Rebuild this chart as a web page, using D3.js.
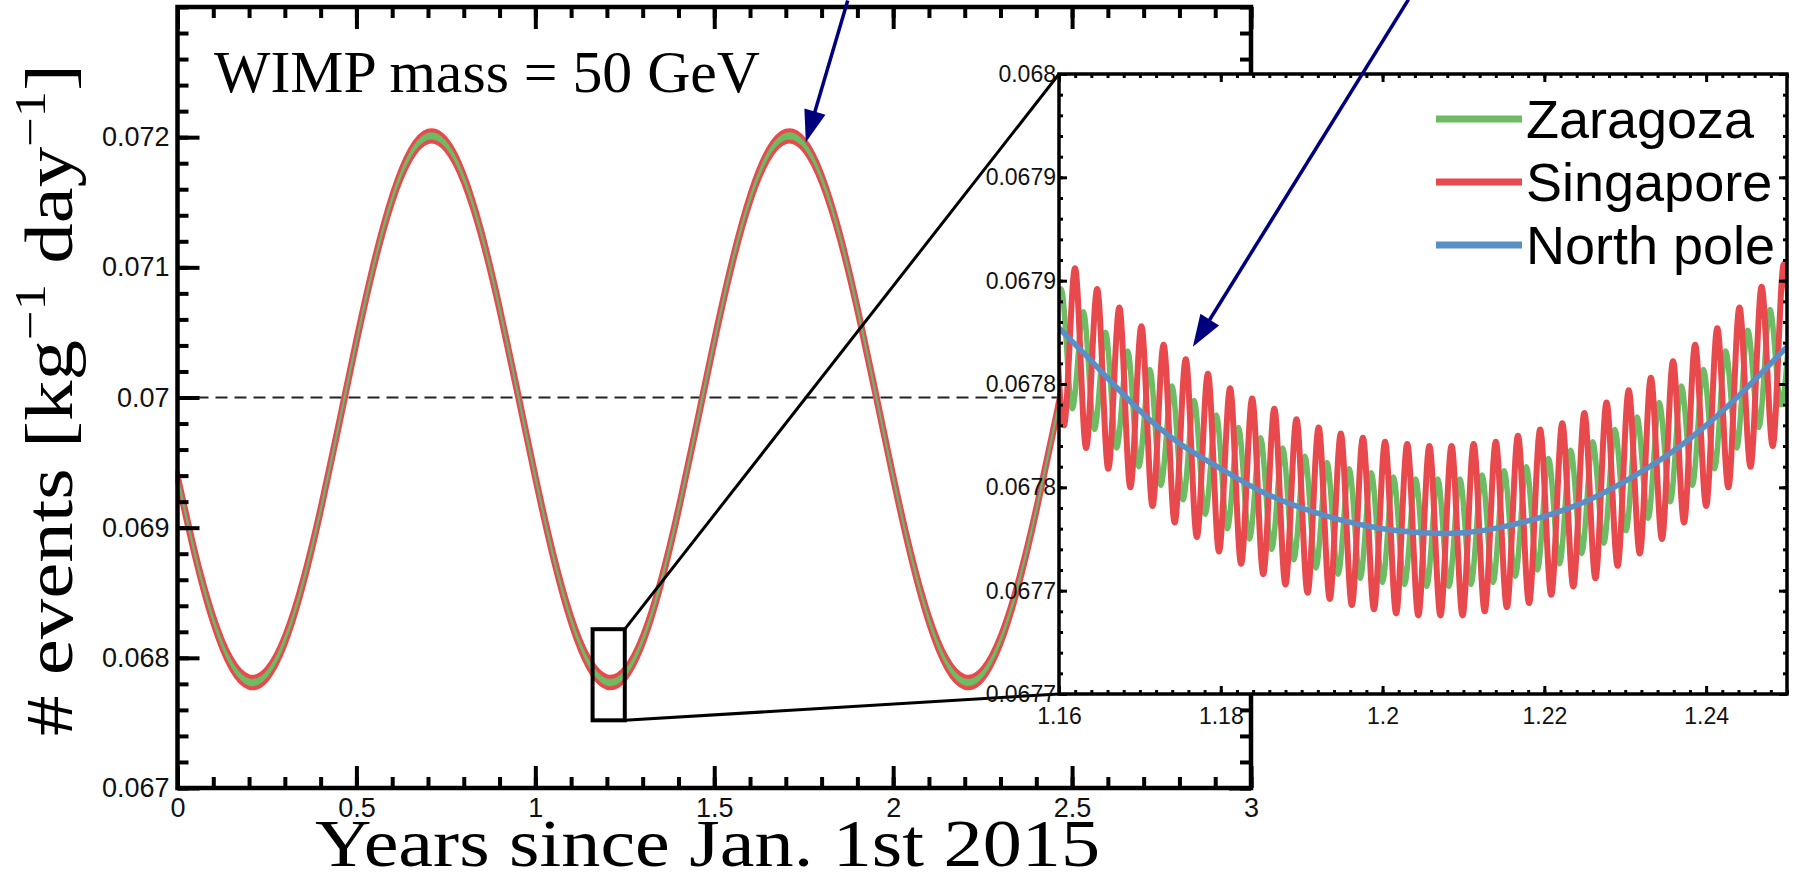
<!DOCTYPE html>
<html>
<head>
<meta charset="utf-8">
<script src="https://cdn.jsdelivr.net/npm/d3@7"></script>
<style>
  body { margin: 0; background: #fff; }
  svg { display: block; }
</style>
</head>
<body>
<svg id="chart" width="1795" height="880"></svg>
<script>
// ---- main panel data (years since Jan 1st 2015, read every 0.05 yr) ----
const years = [0, 0.05, 0.1, 0.15, 0.2, 0.25, 0.3, 0.35, 0.4, 0.45, 0.5, 0.55, 0.6, 0.65, 0.7, 0.75, 0.8, 0.85, 0.9, 0.95,
  1, 1.05, 1.1, 1.15, 1.2, 1.25, 1.3, 1.35, 1.4, 1.45, 1.5, 1.55, 1.6, 1.65, 1.7, 1.75, 1.8, 1.85, 1.9, 1.95,
  2, 2.05, 2.1, 2.15, 2.2, 2.25, 2.3, 2.35, 2.4, 2.45, 2.5, 2.55, 2.6, 2.65, 2.7, 2.75, 2.8, 2.85, 2.9, 2.95, 3];
const northPoleMain = [0.069388, 0.068785, 0.068292, 0.067957, 0.067814, 0.067876, 0.068137, 0.068571, 0.069137, 0.069778,
  0.070432, 0.071035, 0.071528, 0.071863, 0.072006, 0.071944, 0.071683, 0.071249, 0.070683, 0.070042,
  0.069388, 0.068785, 0.068292, 0.067957, 0.067814, 0.067876, 0.068137, 0.068571, 0.069137, 0.069778,
  0.070432, 0.071035, 0.071528, 0.071863, 0.072006, 0.071944, 0.071683, 0.071249, 0.070683, 0.070042,
  0.069388, 0.068785, 0.068292, 0.067957, 0.067814, 0.067876, 0.068137, 0.068571, 0.069137, 0.069778,
  0.070432, 0.071035, 0.071528, 0.071863, 0.072006, 0.071944, 0.071683, 0.071249, 0.070683, 0.070042,
  0.069388];
// half height of the daily wiggle around the north pole curve
const singaporeSpread = 0.000042;
const zaragozaSpread = 0.000026;

const mainXTicks = [0, 0.5, 1, 1.5, 2, 2.5, 3];
const mainXLabels = ["0", "0.5", "1", "1.5", "2", "2.5", "3"];
const mainYTicks = [0.067, 0.068, 0.069, 0.07, 0.071, 0.072];
const mainYLabels = ["0.067", "0.068", "0.069", "0.07", "0.071", "0.072"];

// ---- inset data (daily maxima / minima) ----
const singaporeT = [1.15924, 1.16061, 1.16198, 1.16335, 1.16472, 1.16609, 1.16746, 1.16882, 1.17019, 1.17156,
  1.17293, 1.1743, 1.17567, 1.17704, 1.17841, 1.17978, 1.18115, 1.18251, 1.18388, 1.18525,
  1.18662, 1.18799, 1.18936, 1.19073, 1.1921, 1.19347, 1.19484, 1.1962, 1.19757, 1.19894,
  1.20031, 1.20168, 1.20305, 1.20442, 1.20579, 1.20716, 1.20853, 1.20989, 1.21126, 1.21263,
  1.214, 1.21537, 1.21674, 1.21811, 1.21948, 1.22085, 1.22222, 1.22358, 1.22495, 1.22632,
  1.22769, 1.22906, 1.23043, 1.2318, 1.23317, 1.23454, 1.23591, 1.23727, 1.23864, 1.24001,
  1.24138, 1.24275, 1.24412, 1.24549, 1.24686, 1.24823, 1.2496, 1.25097];
const singaporeV = [0.067917, 0.06783, 0.067906, 0.067819, 0.067896, 0.067809, 0.067887, 0.0678, 0.067878, 0.067791,
  0.067869, 0.067783, 0.067862, 0.067776, 0.067855, 0.067769, 0.067848, 0.067763, 0.067843, 0.067758,
  0.067838, 0.067753, 0.067833, 0.067749, 0.067829, 0.067746, 0.067826, 0.067743, 0.067824, 0.067741,
  0.067822, 0.067739, 0.067821, 0.067738, 0.06782, 0.067738, 0.06782, 0.067738, 0.067821, 0.06774,
  0.067822, 0.067742, 0.067825, 0.067744, 0.067828, 0.067748, 0.067831, 0.067752, 0.067836, 0.067756,
  0.067841, 0.067762, 0.067847, 0.067768, 0.067853, 0.067775, 0.067861, 0.067783, 0.067869, 0.067791,
  0.067877, 0.0678, 0.067887, 0.06781, 0.067897, 0.06782, 0.067908, 0.067832];

const zaragozaT = [1.1589, 1.16027, 1.16164, 1.16301, 1.16438, 1.16575, 1.16712, 1.16849, 1.16985, 1.17122,
  1.17259, 1.17396, 1.17533, 1.1767, 1.17807, 1.17944, 1.18081, 1.18218, 1.18354, 1.18491,
  1.18628, 1.18765, 1.18902, 1.19039, 1.19176, 1.19313, 1.1945, 1.19587, 1.19723, 1.1986,
  1.19997, 1.20134, 1.20271, 1.20408, 1.20545, 1.20682, 1.20819, 1.20956, 1.21092, 1.21229,
  1.21366, 1.21503, 1.2164, 1.21777, 1.21914, 1.22051, 1.22188, 1.22325, 1.22461, 1.22598,
  1.22735, 1.22872, 1.23009, 1.23146, 1.23283, 1.2342, 1.23557, 1.23694, 1.2383, 1.23967,
  1.24104, 1.24241, 1.24378, 1.24515, 1.24652, 1.24789, 1.24926, 1.25063];
const zaragozaV = [0.067849, 0.067896, 0.067838, 0.067885, 0.067828, 0.067875, 0.067819, 0.067866, 0.06781, 0.067857,
  0.067801, 0.067849, 0.067794, 0.067842, 0.067787, 0.067835, 0.06778, 0.067829, 0.067775, 0.067824,
  0.06777, 0.067819, 0.067765, 0.067815, 0.067761, 0.067812, 0.067758, 0.067809, 0.067756, 0.067807,
  0.067754, 0.067805, 0.067753, 0.067804, 0.067752, 0.067804, 0.067752, 0.067804, 0.067753, 0.067806,
  0.067754, 0.067808, 0.067757, 0.06781, 0.06776, 0.067814, 0.067763, 0.067818, 0.067768, 0.067822,
  0.067773, 0.067828, 0.067779, 0.067834, 0.067785, 0.067841, 0.067793, 0.067849, 0.067801, 0.067857,
  0.067809, 0.067866, 0.067819, 0.067876, 0.067829, 0.067886, 0.06784, 0.067898];

const northPoleT = [1.16, 1.165, 1.17, 1.175, 1.18, 1.185, 1.19, 1.195, 1.2, 1.205,
  1.21, 1.215, 1.22, 1.225, 1.23, 1.235, 1.24, 1.245, 1.25];
const northPoleV = [0.067877, 0.067857, 0.067837, 0.067821, 0.067809, 0.067798, 0.06779, 0.067784, 0.06778, 0.067778,
  0.067778, 0.067781, 0.067786, 0.067793, 0.067803, 0.067815, 0.06783, 0.067848, 0.067868];

const insetXTicks = [1.16, 1.18, 1.2, 1.22, 1.24];
const insetXLabels = ["1.16", "1.18", "1.2", "1.22", "1.24"];
const insetYTicks = [0.0677, 0.06775, 0.0678, 0.06785, 0.0679, 0.06795, 0.068];
const insetYLabels = ["0.0677", "0.0677", "0.0678", "0.0678", "0.0679", "0.0679", "0.068"];

const legendNames = ["Zaragoza", "Singapore", "North pole"];
const colors = { zaragoza: "#6dbb63", singapore: "#e8494d", northPole: "#5b8ec4" };

// ---- layout ----
const svg = d3.select("#chart");
const main = { left: 177.5, right: 1251, top: 7, bottom: 788 };
const ins = { left: 1059, right: 1787, top: 74, bottom: 694 };
const sans = "'Liberation Sans', Arial, Helvetica, sans-serif";
const serif = "'Liberation Serif', 'Times New Roman', serif";

const x = d3.scaleLinear().domain([0, 3]).range([main.left, main.right]);
const y = d3.scaleLinear().domain([0.067, 0.073]).range([main.bottom, main.top]);
const xi = d3.scaleLinear().domain([1.16, 1.25]).range([ins.left, ins.right]);
const yi = d3.scaleLinear().domain([0.0677, 0.068]).range([ins.bottom, ins.top]);

// draws ticks on the 4 sides of a box, pointing inwards
function boxAxes(g, xs, ys, o) {
  const b = o.box;
  const axes = [
    [d3.axisBottom(xs), `translate(0,${b.bottom})`, o.xMajor, o.xMinor, o.xLabels, o.xPad],
    [d3.axisTop(xs), `translate(0,${b.top})`, o.xMajor, o.xMinor, null],
    [d3.axisLeft(ys), `translate(${b.left},0)`, o.yMajor, o.yMinor, o.yLabels, o.yPad],
    [d3.axisRight(ys), `translate(${b.right},0)`, o.yMajor, o.yMinor, null]
  ];
  axes.forEach(([ax, tr, major, minor, labels, pad]) => {
    g.append("g").attr("transform", tr)
      .call(ax.tickValues(minor).tickSize(-o.minorLen).tickFormat(""))
      .call(s => s.select(".domain").remove());
    const m = g.append("g").attr("transform", tr)
      .call(ax.tickValues(major).tickSize(-o.majorLen).tickPadding(pad || 0)
        .tickFormat(labels ? (d, i) => labels[i] : ""))
      .call(s => s.select(".domain").remove());
    m.selectAll("text").attr("font-family", sans).attr("font-size", o.fontSize).attr("fill", "#111");
  });
  g.selectAll(".tick line").attr("stroke", "#000").attr("stroke-width", o.tw);
  g.append("rect")
    .attr("x", b.left).attr("y", b.top)
    .attr("width", b.right - b.left).attr("height", b.bottom - b.top)
    .attr("fill", "none").attr("stroke", "#000").attr("stroke-width", o.lw);
}

// ---- main panel ----
const mainPts = years.map((t, i) => ({ t: t, v: northPoleMain[i] }));
const gMain = svg.append("g");

gMain.append("line")
  .attr("x1", x(0)).attr("x2", x(3))
  .attr("y1", y(0.07)).attr("y2", y(0.07))
  .attr("stroke", "#222").attr("stroke-width", 1.8).attr("stroke-dasharray", "12,7");

const band = spread => d3.area()
  .x(d => x(d.t)).y0(d => y(d.v - spread)).y1(d => y(d.v + spread))
  .curve(d3.curveNatural);

gMain.append("path").datum(mainPts).attr("d", band(singaporeSpread))
  .attr("fill", colors.singapore).attr("stroke", colors.singapore).attr("stroke-width", 4.5)
  .attr("stroke-linejoin", "round");
gMain.append("path").datum(mainPts)
  .attr("d", d3.line().x(d => x(d.t)).y(d => y(d.v)).curve(d3.curveNatural))
  .attr("fill", "none").attr("stroke", colors.northPole).attr("stroke-width", 2);
gMain.append("path").datum(mainPts).attr("d", band(zaragozaSpread))
  .attr("fill", colors.zaragoza).attr("stroke", colors.zaragoza).attr("stroke-width", 0.5);

boxAxes(gMain, x, y, {
  box: main,
  xMajor: mainXTicks, xMinor: d3.range(0, 3.0001, 0.1), xLabels: mainXLabels, xPad: 10,
  yMajor: mainYTicks, yMinor: d3.range(0.067, 0.07301, 0.0002), yLabels: mainYLabels, yPad: 8,
  majorLen: 22, minorLen: 11, lw: 4.5, tw: 4, fontSize: 27
});

svg.append("text")
  .attr("x", 214).attr("y", 92)
  .attr("font-family", serif).attr("font-size", 59)
  .attr("textLength", 546).attr("lengthAdjust", "spacingAndGlyphs")
  .text("WIMP mass = 50 GeV");

// zoom box and connectors
const zoomBox = { t0: 1.16, t1: 1.25, v0: 0.06752, v1: 0.06822 };
svg.append("rect")
  .attr("x", x(zoomBox.t0)).attr("y", y(zoomBox.v1))
  .attr("width", x(zoomBox.t1) - x(zoomBox.t0)).attr("height", y(zoomBox.v0) - y(zoomBox.v1))
  .attr("fill", "none").attr("stroke", "#000").attr("stroke-width", 4);
svg.append("line")
  .attr("x1", x(zoomBox.t1)).attr("y1", y(zoomBox.v1)).attr("x2", ins.left).attr("y2", ins.top)
  .attr("stroke", "#000").attr("stroke-width", 3);
svg.append("line")
  .attr("x1", x(zoomBox.t1)).attr("y1", y(zoomBox.v0)).attr("x2", ins.left).attr("y2", ins.bottom)
  .attr("stroke", "#000").attr("stroke-width", 3);

// ---- inset ----
const gIns = svg.append("g");
gIns.append("rect")
  .attr("x", ins.left).attr("y", ins.top)
  .attr("width", ins.right - ins.left).attr("height", ins.bottom - ins.top)
  .attr("fill", "#fff");
svg.append("clipPath").attr("id", "insClip").append("rect")
  .attr("x", ins.left).attr("y", ins.top)
  .attr("width", ins.right - ins.left).attr("height", ins.bottom - ins.top);

const gCurves = gIns.append("g").attr("clip-path", "url(#insClip)");
const lineI = d3.line().x(d => xi(d[0])).y(d => yi(d[1]));

gCurves.append("path").datum(d3.zip(zaragozaT, zaragozaV))
  .attr("d", lineI.curve(d3.curveMonotoneX))
  .attr("fill", "none").attr("stroke", colors.zaragoza).attr("stroke-width", 5.5);
gCurves.append("path").datum(d3.zip(singaporeT, singaporeV))
  .attr("d", lineI.curve(d3.curveMonotoneX))
  .attr("fill", "none").attr("stroke", colors.singapore).attr("stroke-width", 6);
gCurves.append("path").datum(d3.zip(northPoleT, northPoleV))
  .attr("d", lineI.curve(d3.curveNatural))
  .attr("fill", "none").attr("stroke", colors.northPole).attr("stroke-width", 5.5);

boxAxes(gIns, xi, yi, {
  box: ins,
  xMajor: insetXTicks, xMinor: d3.range(1.16, 1.2501, 0.002), xLabels: insetXLabels, xPad: 14,
  yMajor: insetYTicks, yMinor: d3.range(0.0677, 0.068001, 0.00001), yLabels: insetYLabels, yPad: 3,
  majorLen: 8, minorLen: 4, lw: 3.5, tw: 3, fontSize: 23
});

// legend
const legendColors = [colors.zaragoza, colors.singapore, colors.northPole];
const leg = gIns.append("g").attr("transform", "translate(1436,119)");
legendNames.forEach((name, i) => {
  const row = leg.append("g").attr("transform", `translate(0,${i * 63})`);
  row.append("line").attr("x1", 0).attr("x2", 86).attr("y1", 0).attr("y2", 0)
    .attr("stroke", legendColors[i]).attr("stroke-width", 7);
  row.append("text").attr("x", 90).attr("y", 19)
    .attr("font-family", sans).attr("font-size", 54).attr("fill", "#000")
    .text(name);
});

// ---- axis titles ----
svg.append("text")
  .attr("x", 315).attr("y", 866)
  .attr("font-family", serif).attr("font-size", 68)
  .attr("textLength", 785).attr("lengthAdjust", "spacingAndGlyphs")
  .text("Years since Jan.  1st 2015");

const yTitle = svg.append("text")
  .attr("transform", "translate(72,736) rotate(-90)")
  .attr("font-family", serif).attr("font-size", 68)
  .attr("textLength", 672).attr("lengthAdjust", "spacingAndGlyphs");
yTitle.append("tspan").text("# events [kg");
yTitle.append("tspan").attr("font-size", 44).attr("dy", -27).text("\u22121");
yTitle.append("tspan").attr("dy", 27).text(" day");
yTitle.append("tspan").attr("font-size", 44).attr("dy", -27).text("\u22121");
yTitle.append("tspan").attr("dy", 27).text("]");

// ---- arrows ----
function arrow(x0, y0, x1, y1) {
  const dx = x1 - x0, dy = y1 - y0, L = Math.hypot(dx, dy);
  const ux = dx / L, uy = dy / L, hl = 32, hw = 11;
  const bx = x1 - ux * hl, by = y1 - uy * hl;
  svg.append("line").attr("x1", x0).attr("y1", y0).attr("x2", bx + ux * 4).attr("y2", by + uy * 4)
    .attr("stroke", "#00007f").attr("stroke-width", 3.5);
  svg.append("path")
    .attr("d", `M${x1},${y1}L${bx - uy * hw},${by + ux * hw}L${bx + uy * hw},${by - ux * hw}Z`)
    .attr("fill", "#00007f");
}
arrow(x(1.873), y(0.07305), x(1.756), y(0.07196));
arrow(xi(1.2032), yi(0.068036), xi(1.17655), yi(0.067868));
</script>
</body>
</html>
